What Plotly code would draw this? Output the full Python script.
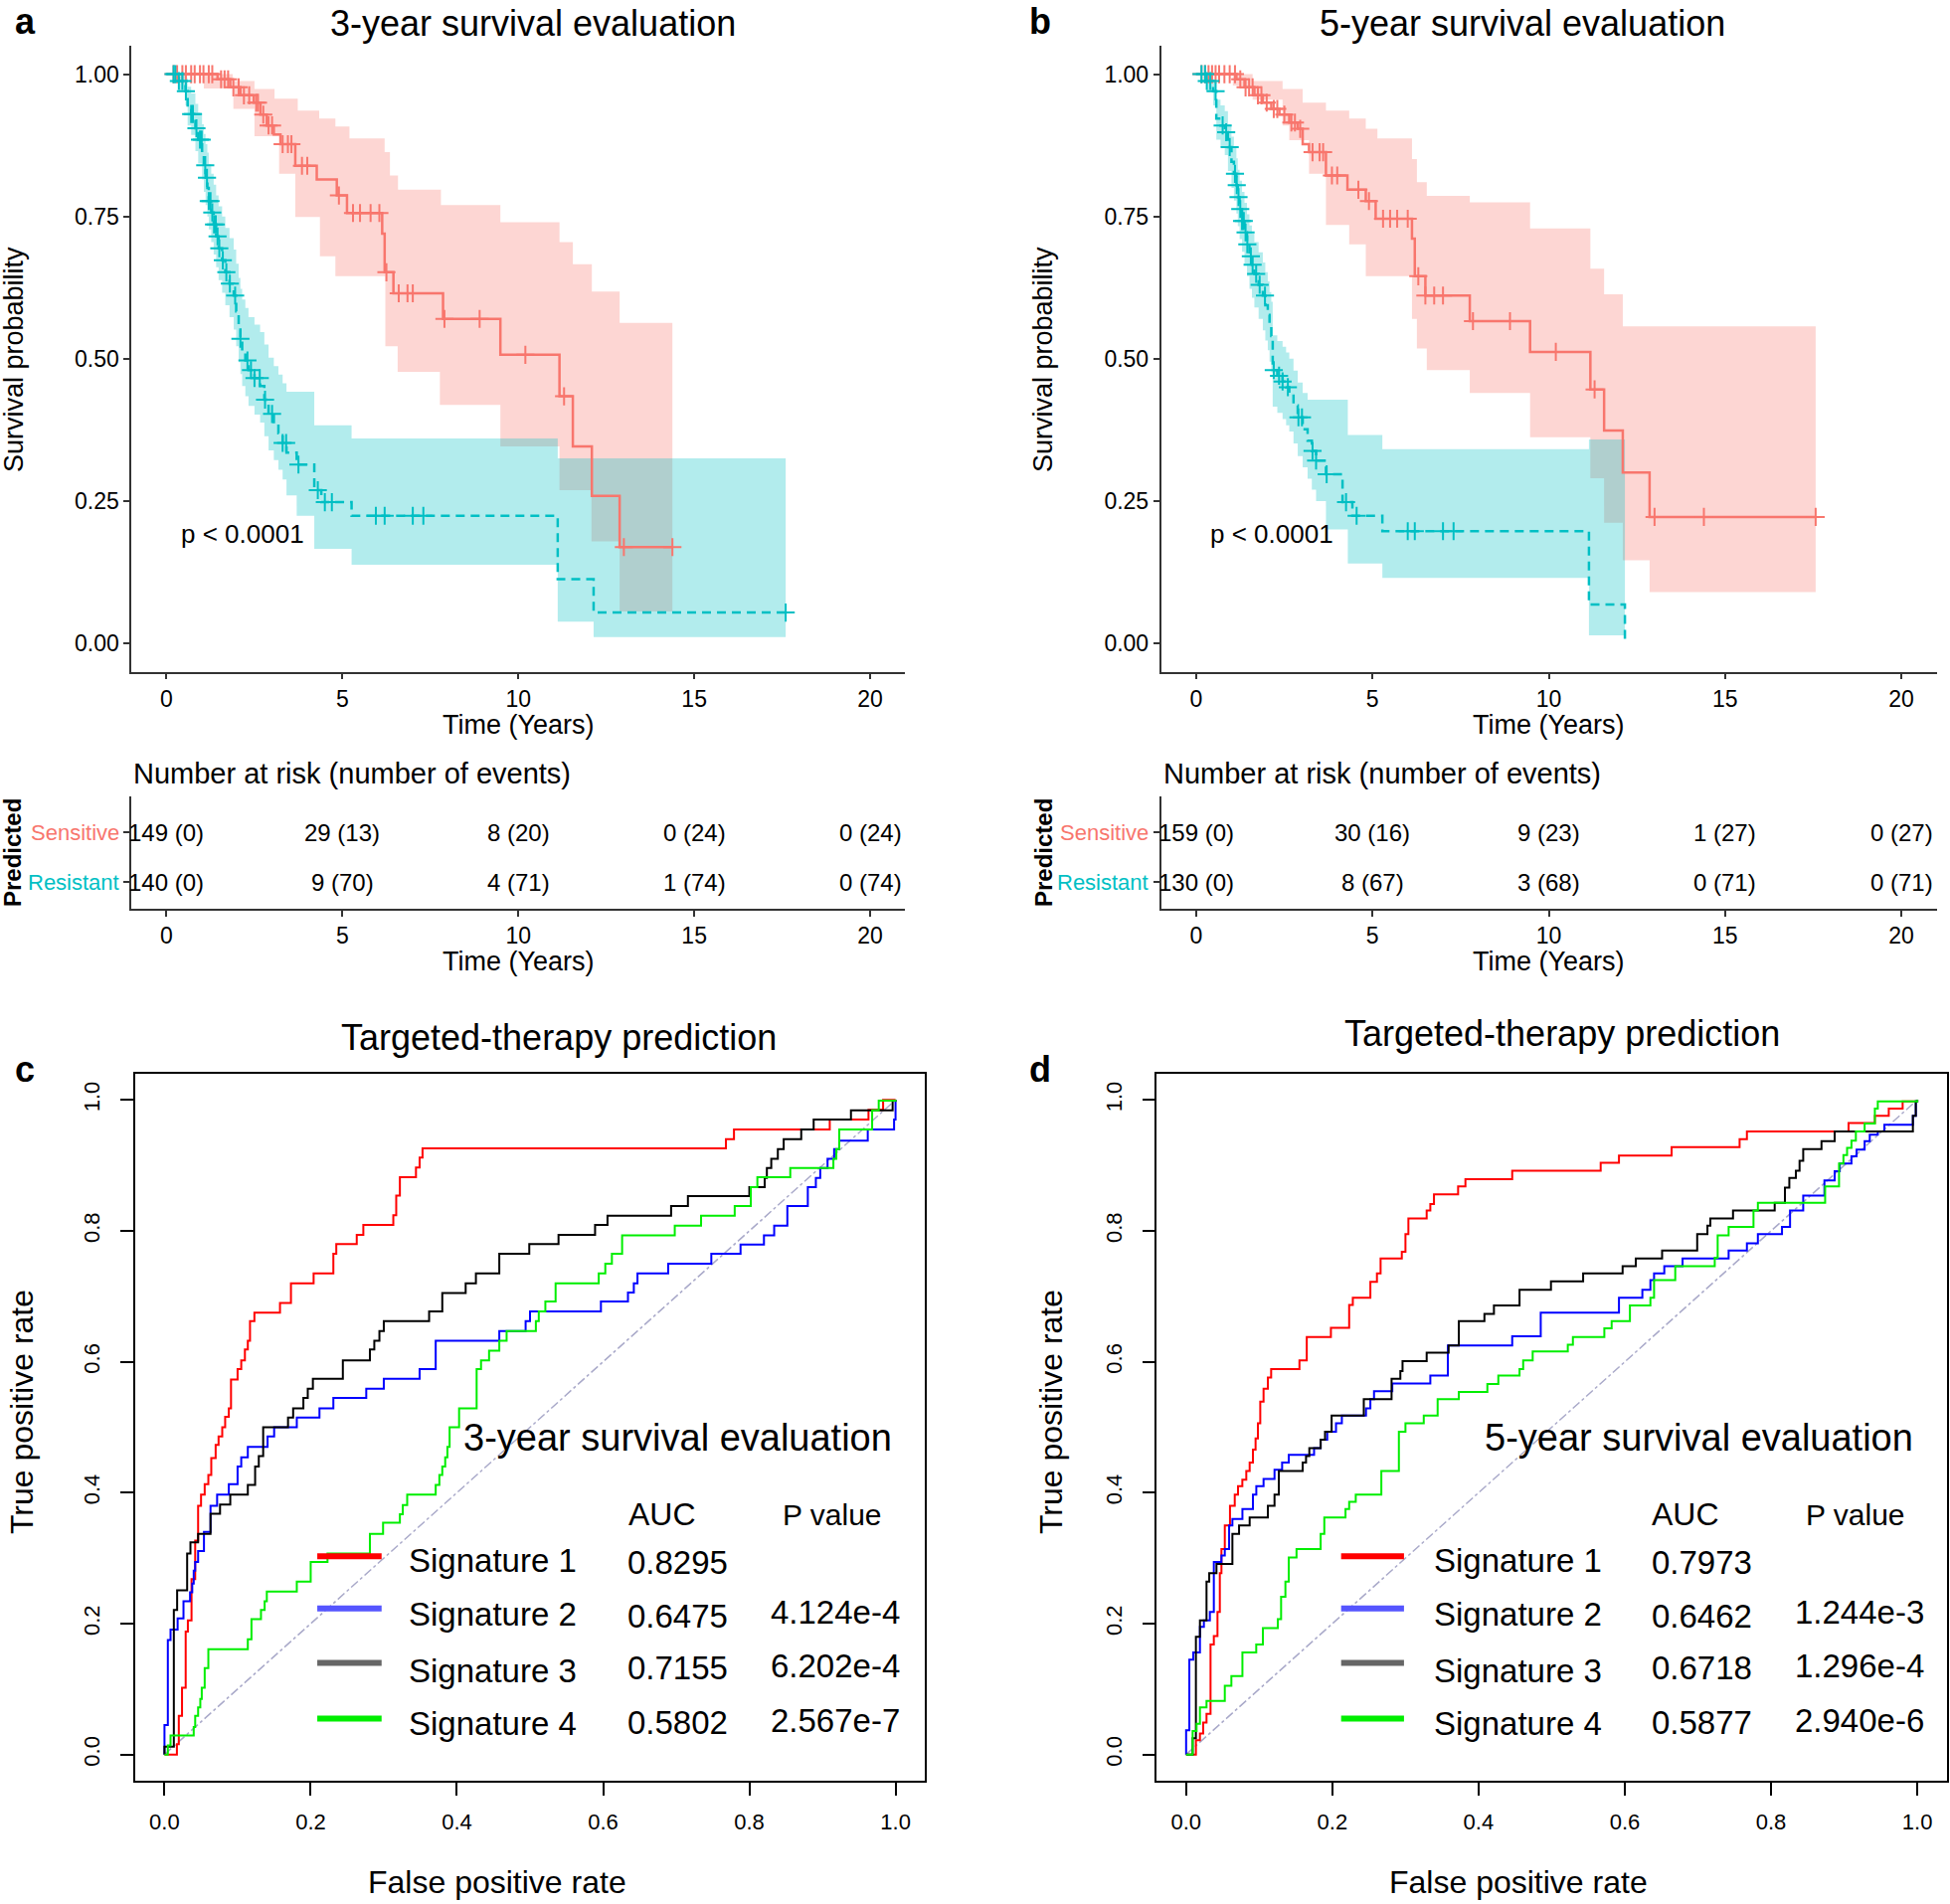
import bisect
import plotly.graph_objects as go

W, H = 1961, 1915
FONT = "Liberation Sans, Arial, sans-serif"
RED = "#F8766D"
CYAN = "#00BFC4"
RED_BAND = "rgba(248,118,109,0.30)"
CYAN_BAND = "rgba(0,191,196,0.30)"

# ---------------- Panel a : 3-year KM ----------------
A_SENS_T = [0, 1.45, 1.81, 2.10, 2.48, 2.67, 2.85, 3.05, 3.24, 3.66, 4.27, 4.84, 5.13, 6.13, 6.2, 6.45, 7.86, 9.49, 11.17, 11.55, 12.09, 12.88]
A_SENS_S = [1.0, 0.991, 0.977, 0.963, 0.950, 0.929, 0.91, 0.894, 0.877, 0.839, 0.815, 0.787, 0.756, 0.72, 0.652, 0.615, 0.570, 0.507, 0.434, 0.346, 0.259, 0.169]
A_SENS_END = 14.38
A_SENS_UP_T = [0, 1.88, 2.5, 3.07, 3.73, 4.34, 4.8, 5.2, 6.2, 6.35, 6.58, 7.8, 9.49, 11.17, 11.55, 12.09, 12.88]
A_SENS_UP = [1.0, 0.988, 0.974, 0.957, 0.936, 0.922, 0.908, 0.887, 0.863, 0.822, 0.797, 0.770, 0.740, 0.705, 0.666, 0.618, 0.563]
A_SENS_LO_T = [0, 1.06, 1.9, 2.5, 3.2, 3.66, 4.36, 4.8, 6.22, 6.57, 7.77, 9.49, 11.17, 12.08, 12.88]
A_SENS_LO = [1.0, 0.975, 0.939, 0.891, 0.825, 0.749, 0.68, 0.645, 0.522, 0.477, 0.419, 0.346, 0.269, 0.179, 0.056]
A_SENS_CENS = [0.2, 0.3, 0.45, 0.55, 0.7, 0.8, 0.95, 1.05, 1.2, 1.3, 1.55, 1.65, 1.75, 1.9, 2.05, 2.2, 2.35, 2.55, 2.6, 2.75, 2.9, 3.0, 3.3, 3.45, 3.55, 3.85, 4.0, 4.9, 5.3, 5.5, 5.8, 6.05, 6.25, 6.6, 6.85, 7.0, 7.9, 8.9, 10.2, 11.3, 13.0, 14.38]

A_RES_T = [0, 0.35, 0.54, 0.6, 0.7, 0.82, 0.9, 1.01, 1.06, 1.11, 1.16, 1.2, 1.27, 1.34, 1.41, 1.48, 1.58, 1.67, 1.79, 1.91,
           1.98, 2.05, 2.1, 2.15, 2.24, 2.33, 2.5, 2.66, 2.78, 2.9, 3.05, 3.18, 3.3, 3.41, 3.7, 4.2, 4.4, 5.26, 11.12, 12.14]
A_RES_S = [1.0, 0.988, 0.970, 0.945, 0.93, 0.905, 0.885, 0.86, 0.84, 0.818, 0.80, 0.777, 0.757, 0.736, 0.715, 0.694, 0.673, 0.652, 0.632, 0.611,
           0.583, 0.556, 0.535, 0.514, 0.497, 0.480, 0.466, 0.452, 0.428, 0.403, 0.386, 0.369, 0.352, 0.335, 0.314, 0.269, 0.248, 0.224, 0.1125, 0.054]
A_RES_UP = [1.0, 1.0, 0.993, 0.978, 0.966, 0.948, 0.932, 0.912, 0.895, 0.877, 0.862, 0.842, 0.825, 0.806, 0.787, 0.768, 0.75, 0.73, 0.712, 0.692,
            0.667, 0.642, 0.623, 0.604, 0.589, 0.573, 0.56, 0.547, 0.525, 0.502, 0.487, 0.472, 0.457, 0.442, 0.442, 0.383, 0.383, 0.36, 0.325, 0.325]
A_RES_LO = [1.0, 0.97, 0.945, 0.91, 0.893, 0.865, 0.843, 0.815, 0.793, 0.77, 0.75, 0.727, 0.705, 0.683, 0.661, 0.638, 0.616, 0.594, 0.573, 0.551,
            0.522, 0.494, 0.473, 0.452, 0.434, 0.417, 0.402, 0.388, 0.364, 0.339, 0.322, 0.305, 0.288, 0.26, 0.224, 0.166, 0.166, 0.138, 0.038, 0.011]
A_RES_END = 17.6
A_RES_CENS = [0.2, 0.25, 0.35, 0.45, 0.55, 0.7, 0.75, 0.85, 0.95, 1.0, 1.1, 1.15, 1.2, 1.25, 1.3, 1.35, 1.4, 1.45, 1.5, 1.6, 1.7, 1.8,
              1.95, 2.1, 2.3, 2.4, 2.5, 2.65, 2.8, 3.0, 3.3, 3.4, 3.75, 4.3, 4.5, 4.7, 5.95, 6.2, 7.0, 7.3, 17.6]

# ---------------- Panel b : 5-year KM ----------------
B_SENS_T = [0, 1.14, 1.37, 1.65, 1.89, 2.13, 2.36, 2.64, 2.88, 3.02, 3.2, 3.68, 4.29, 4.81, 5.09, 6.12, 6.2, 6.5, 7.76, 9.47, 11.18, 11.57, 12.1, 12.86]
B_SENS_S = [1.0, 0.991, 0.977, 0.963, 0.950, 0.939, 0.929, 0.915, 0.904, 0.877, 0.863, 0.822, 0.797, 0.777, 0.746, 0.711, 0.645, 0.611, 0.566, 0.512, 0.446, 0.374, 0.30, 0.222]
B_SENS_END = 17.57
B_SENS_UP_T = [0, 1.6, 2.45, 3.02, 3.68, 4.34, 4.81, 5.14, 6.12, 6.26, 6.54, 7.76, 9.47, 11.18, 11.57, 12.1]
B_SENS_UP = [1.0, 0.988, 0.974, 0.95, 0.936, 0.922, 0.904, 0.887, 0.851, 0.81, 0.786, 0.775, 0.729, 0.658, 0.613, 0.557]
B_SENS_LO_T = [0, 1.04, 1.6, 2.45, 2.64, 3.2, 3.68, 4.34, 4.81, 6.12, 6.26, 6.54, 7.76, 9.47, 11.18, 11.57, 12.1, 12.86]
B_SENS_LO = [1.0, 0.98, 0.955, 0.91, 0.884, 0.825, 0.735, 0.701, 0.645, 0.57, 0.518, 0.48, 0.44, 0.362, 0.29, 0.212, 0.146, 0.09]
B_SENS_CENS = [0.15, 0.25, 0.35, 0.45, 0.55, 0.65, 0.8, 0.95, 1.1, 1.25, 1.4, 1.5, 1.6, 1.75, 1.85, 2.0, 2.2, 2.3, 2.5, 2.7, 2.8, 2.95,
               3.3, 3.5, 3.6, 3.85, 4.0, 4.6, 4.9, 5.3, 5.5, 5.7, 6.0, 6.3, 6.5, 6.75, 7.0, 7.85, 8.9, 10.2, 11.3, 13.0, 14.4, 17.57]

B_RES_T = [0, 0.29, 0.48, 0.57, 0.69, 0.81, 0.9, 1.0, 1.07, 1.14, 1.18, 1.23, 1.3, 1.37, 1.44, 1.51, 1.58, 1.65, 1.77, 1.89,
           1.96, 2.03, 2.08, 2.13, 2.17, 2.3, 2.45, 2.55, 2.64, 2.76, 2.88, 3.02, 3.16, 3.28, 3.4, 3.68, 4.15, 4.3, 4.43, 5.28, 11.14, 12.16]
B_RES_S = [1.0, 0.988, 0.970, 0.922, 0.91, 0.898, 0.872, 0.846, 0.825, 0.805, 0.784, 0.763, 0.742, 0.722, 0.701, 0.680, 0.665, 0.649, 0.630, 0.611,
           0.594, 0.577, 0.558, 0.54, 0.48, 0.47, 0.46, 0.45, 0.439, 0.418, 0.397, 0.376, 0.356, 0.338, 0.321, 0.297, 0.248, 0.248, 0.224, 0.197, 0.068, 0.0]
B_RES_UP = [1.0, 1.0, 0.99, 0.955, 0.945, 0.935, 0.912, 0.89, 0.87, 0.852, 0.832, 0.813, 0.793, 0.774, 0.754, 0.734, 0.72, 0.705, 0.687, 0.669,
            0.652, 0.636, 0.617, 0.6, 0.541, 0.531, 0.521, 0.511, 0.5, 0.479, 0.458, 0.44, 0.428, 0.428, 0.428, 0.428, 0.428, 0.366, 0.366, 0.341, 0.358, 0.358]
B_RES_LO = [1.0, 0.97, 0.945, 0.885, 0.872, 0.858, 0.83, 0.8, 0.778, 0.755, 0.733, 0.71, 0.688, 0.667, 0.645, 0.623, 0.607, 0.59, 0.57, 0.55,
            0.532, 0.515, 0.495, 0.476, 0.416, 0.405, 0.394, 0.383, 0.372, 0.351, 0.329, 0.309, 0.289, 0.27, 0.25, 0.2, 0.2, 0.14, 0.14, 0.115, 0.014, 0.014]
B_RES_END = 12.16
B_RES_CENS = [0.15, 0.25, 0.3, 0.4, 0.55, 0.75, 0.85, 0.95, 1.1, 1.15, 1.2, 1.25, 1.3, 1.35, 1.4, 1.45, 1.55, 1.6, 1.7, 1.8,
              1.95, 2.2, 2.35, 2.45, 2.6, 2.9, 3.0, 3.3, 3.4, 3.7, 4.25, 4.55, 6.0, 6.2, 7.0, 7.3]

# ---------------- Risk tables ----------------
RISK_TIMES = [0, 5, 10, 15, 20]
A_SENS_RISK = [149, 29, 8, 0, 0]
A_SENS_EVENTS = [0, 13, 20, 24, 24]
A_RES_RISK = [140, 9, 4, 1, 0]
A_RES_EVENTS = [0, 70, 71, 74, 74]
B_SENS_RISK = [159, 30, 9, 1, 0]
B_SENS_EVENTS = [0, 16, 23, 27, 27]
B_RES_RISK = [130, 8, 3, 0, 0]
B_RES_EVENTS = [0, 67, 68, 71, 71]

# ---------------- Panel c : ROC 3-year ----------------
C_SIG1_FPR = [0, 0.017, 0.0196, 0.024, 0.029, 0.032, 0.037, 0.042, 0.046, 0.050, 0.055, 0.060, 0.064, 0.070, 0.074, 0.079, 0.083, 0.088, 0.091, 0.100,
              0.105, 0.110, 0.114, 0.117, 0.123, 0.158, 0.173, 0.204, 0.231, 0.235, 0.263, 0.272, 0.313, 0.317, 0.322, 0.344, 0.349, 0.353, 0.768, 0.779,
              0.910, 0.963, 0.983, 1.0]
C_SIG1_TPR = [0, 0.016, 0.059, 0.102, 0.188, 0.205, 0.268, 0.327, 0.380, 0.397, 0.413, 0.427, 0.453, 0.473, 0.486, 0.500, 0.516, 0.529, 0.573, 0.589,
              0.602, 0.619, 0.632, 0.662, 0.675, 0.690, 0.720, 0.735, 0.765, 0.780, 0.794, 0.809, 0.824, 0.854, 0.882, 0.897, 0.912, 0.926, 0.940, 0.955,
              0.970, 0.985, 1.0, 1.0]
C_SIG2_FPR = [0, 0, 0.0046, 0.0083, 0.018, 0.026, 0.035, 0.038, 0.040, 0.042, 0.046, 0.054, 0.063, 0.072, 0.088, 0.100, 0.105, 0.114, 0.141, 0.150,
              0.181, 0.212, 0.231, 0.276, 0.300, 0.349, 0.371, 0.458, 0.494, 0.500, 0.597, 0.634, 0.642, 0.647, 0.689, 0.748, 0.788, 0.820, 0.834, 0.852,
              0.880, 0.891, 0.897, 0.907, 0.916, 0.923, 0.962, 0.998, 1.0]
C_SIG2_TPR = [0, 0.045, 0.175, 0.191, 0.208, 0.234, 0.248, 0.261, 0.281, 0.294, 0.311, 0.340, 0.380, 0.397, 0.413, 0.440, 0.454, 0.470, 0.486, 0.500,
              0.515, 0.529, 0.545, 0.559, 0.574, 0.589, 0.632, 0.647, 0.662, 0.677, 0.692, 0.706, 0.720, 0.735, 0.750, 0.765, 0.779, 0.793, 0.808, 0.838,
              0.867, 0.881, 0.896, 0.910, 0.925, 0.938, 0.955, 0.970, 1.0]
C_SIG3_FPR = [0, 0, 0.0128, 0.0173, 0.031, 0.0355, 0.046, 0.063, 0.076, 0.090, 0.114, 0.124, 0.129, 0.135, 0.169, 0.176, 0.190, 0.196, 0.203, 0.244,
              0.281, 0.287, 0.294, 0.300, 0.362, 0.380, 0.412, 0.426, 0.458, 0.499, 0.539, 0.589, 0.606, 0.693, 0.716, 0.800, 0.821, 0.824, 0.830, 0.839,
              0.847, 0.871, 0.888, 0.939, 0.996, 1.0]
C_SIG3_TPR = [0, 0.012, 0.221, 0.251, 0.307, 0.324, 0.337, 0.368, 0.382, 0.397, 0.412, 0.440, 0.456, 0.500, 0.515, 0.529, 0.545, 0.559, 0.574, 0.602,
              0.619, 0.632, 0.647, 0.662, 0.677, 0.705, 0.720, 0.735, 0.765, 0.780, 0.794, 0.809, 0.823, 0.838, 0.853, 0.867, 0.881, 0.896, 0.910, 0.925,
              0.940, 0.955, 0.970, 0.984, 0.999, 1.0]
C_SIG4_FPR = [0, 0.0046, 0.0083, 0.040, 0.042, 0.046, 0.049, 0.051, 0.055, 0.060, 0.114, 0.119, 0.132, 0.137, 0.140, 0.181, 0.200, 0.223, 0.281, 0.299,
              0.322, 0.326, 0.332, 0.371, 0.376, 0.380, 0.384, 0.387, 0.390, 0.403, 0.427, 0.433, 0.444, 0.458, 0.468, 0.508, 0.512, 0.521, 0.535, 0.594,
              0.603, 0.612, 0.626, 0.698, 0.734, 0.780, 0.802, 0.811, 0.856, 0.915, 0.919, 0.923, 0.968, 0.977, 1.0]
C_SIG4_TPR = [0, 0.014, 0.029, 0.042, 0.059, 0.072, 0.085, 0.102, 0.132, 0.161, 0.176, 0.207, 0.221, 0.234, 0.249, 0.264, 0.294, 0.307, 0.337, 0.354,
              0.367, 0.381, 0.397, 0.412, 0.427, 0.440, 0.454, 0.470, 0.500, 0.529, 0.589, 0.602, 0.617, 0.632, 0.647, 0.662, 0.677, 0.692, 0.720, 0.735,
              0.750, 0.765, 0.793, 0.808, 0.823, 0.838, 0.867, 0.882, 0.896, 0.910, 0.925, 0.955, 0.984, 0.999, 1.0]
C_AUC = ["0.8295", "0.6475", "0.7155", "0.5802"]
C_PVAL = ["", "4.124e-4", "6.202e-4", "2.567e-7"]

# ---------------- Panel d : ROC 5-year ----------------
D_SIG1_FPR = [0, 0.0134, 0.0189, 0.0234, 0.0279, 0.0334, 0.0379, 0.0429, 0.0461, 0.0483, 0.0529, 0.060, 0.0665, 0.071, 0.0769, 0.0823, 0.0869, 0.0914, 0.095, 0.0982,
              0.1014, 0.1059, 0.1118, 0.1163, 0.155, 0.165, 0.198, 0.223, 0.228, 0.252, 0.261, 0.266, 0.295, 0.300, 0.304, 0.329, 0.334, 0.339, 0.372, 0.382,
              0.446, 0.567, 0.592, 0.664, 0.757, 0.767, 0.906, 0.942, 0.961, 0.980, 1.0]
D_SIG1_TPR = [0, 0.022, 0.032, 0.049, 0.062, 0.168, 0.181, 0.218, 0.277, 0.314, 0.350, 0.380, 0.397, 0.410, 0.420, 0.433, 0.446, 0.466, 0.483, 0.506,
              0.539, 0.559, 0.576, 0.589, 0.602, 0.638, 0.652, 0.687, 0.698, 0.722, 0.735, 0.758, 0.768, 0.795, 0.819, 0.831, 0.841, 0.856, 0.868, 0.879,
              0.892, 0.904, 0.915, 0.928, 0.940, 0.952, 0.965, 0.976, 0.987, 0.998, 1.0]
D_SIG2_FPR = [0, 0, 0.0044, 0.0098, 0.0189, 0.0243, 0.0325, 0.0379, 0.0483, 0.0529, 0.0588, 0.0633, 0.077, 0.0914, 0.096, 0.1059, 0.1209, 0.1313, 0.1404, 0.175,
              0.184, 0.193, 0.205, 0.213, 0.246, 0.252, 0.257, 0.282, 0.334, 0.358, 0.446, 0.485, 0.592, 0.624, 0.635, 0.640, 0.654, 0.679, 0.742, 0.767,
              0.782, 0.815, 0.826, 0.844, 0.873, 0.887, 0.894, 0.910, 0.917, 0.928, 0.935, 0.946, 0.955, 0.994, 0.998, 1.0]
D_SIG2_TPR = [0, 0.037, 0.145, 0.156, 0.195, 0.205, 0.218, 0.294, 0.304, 0.314, 0.350, 0.360, 0.375, 0.397, 0.410, 0.421, 0.435, 0.446, 0.458, 0.468,
              0.481, 0.493, 0.506, 0.518, 0.529, 0.543, 0.555, 0.567, 0.579, 0.625, 0.639, 0.675, 0.698, 0.710, 0.725, 0.735, 0.746, 0.758, 0.770, 0.781,
              0.795, 0.806, 0.831, 0.854, 0.877, 0.891, 0.903, 0.914, 0.924, 0.937, 0.947, 0.952, 0.962, 0.976, 0.998, 1.0]
D_SIG3_FPR = [0, 0.0089, 0.0134, 0.0189, 0.0279, 0.0316, 0.0415, 0.0633, 0.0724, 0.0869, 0.1118, 0.1209, 0.1268, 0.1594, 0.164, 0.1685, 0.184, 0.190, 0.199, 0.243,
              0.281, 0.293, 0.296, 0.329, 0.359, 0.373, 0.408, 0.421, 0.456, 0.499, 0.543, 0.597, 0.615, 0.651, 0.699, 0.713, 0.717, 0.748, 0.805, 0.819,
              0.825, 0.834, 0.839, 0.844, 0.869, 0.887, 0.994, 0.998, 1.0]
D_SIG3_TPR = [0, 0.025, 0.180, 0.205, 0.264, 0.277, 0.291, 0.337, 0.350, 0.362, 0.380, 0.397, 0.433, 0.446, 0.456, 0.468, 0.481, 0.493, 0.518, 0.543,
              0.574, 0.586, 0.601, 0.614, 0.625, 0.662, 0.673, 0.686, 0.710, 0.723, 0.735, 0.746, 0.758, 0.770, 0.795, 0.808, 0.819, 0.831, 0.843, 0.866,
              0.881, 0.892, 0.907, 0.925, 0.937, 0.952, 0.976, 0.998, 1.0]
D_SIG4_FPR = [0, 0.0089, 0.0143, 0.0189, 0.0279, 0.0529, 0.0619, 0.077, 0.0959, 0.1050, 0.1254, 0.1299, 0.1358, 0.1404, 0.151, 0.184, 0.189, 0.218, 0.223, 0.232,
              0.267, 0.291, 0.300, 0.325, 0.344, 0.373, 0.412, 0.427, 0.456, 0.461, 0.474, 0.522, 0.529, 0.572, 0.582, 0.607, 0.635, 0.640, 0.669, 0.723,
              0.727, 0.742, 0.776, 0.782, 0.874, 0.893, 0.899, 0.904, 0.910, 0.916, 0.928, 0.942, 0.946, 1.0]
D_SIG4_TPR = [0, 0.036, 0.047, 0.072, 0.082, 0.105, 0.120, 0.156, 0.168, 0.193, 0.207, 0.241, 0.264, 0.301, 0.314, 0.337, 0.362, 0.375, 0.386, 0.397,
              0.433, 0.493, 0.506, 0.518, 0.543, 0.554, 0.566, 0.579, 0.589, 0.602, 0.616, 0.626, 0.638, 0.651, 0.662, 0.686, 0.698, 0.725, 0.746, 0.759,
              0.793, 0.806, 0.831, 0.843, 0.868, 0.903, 0.916, 0.927, 0.938, 0.952, 0.964, 0.987, 0.998, 1.0]
D_AUC = ["0.7973", "0.6462", "0.6718", "0.5877"]
D_PVAL = ["", "1.244e-3", "1.296e-4", "2.940e-6"]

SIG_NAMES = ["Signature 1", "Signature 2", "Signature 3", "Signature 4"]
SIG_COLORS = ["#FF0000", "#0000FF", "#000000", "#00EE00"]
LEG_COLORS = ["#FF0000", "#5555FF", "#666666", "#00EE00"]


# ---------------- helpers ----------------
def px(x):
    return x / W


def py(y):
    return 1 - y / H


def stair(times, vals, end):
    xs, ys = [], []
    for i, (t, v) in enumerate(zip(times, vals)):
        if i > 0:
            xs.append(t)
            ys.append(vals[i - 1])
        xs.append(t)
        ys.append(v)
    xs.append(end)
    ys.append(vals[-1])
    return xs, ys


def band(tu, up, tl, lo, end):
    xu, yu = stair(tu, up, end)
    xl, yl = stair(tl, lo, end)
    return xu + xl[::-1], yu + yl[::-1]


def surv_at(times, vals, t):
    i = bisect.bisect_right(times, t) - 1
    return vals[max(i, 0)]


fig = go.Figure()
ann = []


def txt(text, x, y, size, xref="paper", yref="paper", xanchor="center", yanchor="middle",
        color="black", angle=0, bold=False):
    if bold:
        text = "<b>" + text + "</b>"
    ann.append(dict(text=text, x=x, y=y, xref=xref, yref=yref, xanchor=xanchor, yanchor=yanchor,
                    showarrow=False, textangle=angle, font=dict(family=FONT, size=size, color=color)))


def km_panel(xa, ya, sens, res, pvx):
    (sT, sS, sEnd, suT, sU, slT, sL, sC) = sens
    (rT, rS, rEnd, rU, rL, rC) = res
    bx, by = band(suT, sU, slT, sL, sEnd)
    fig.add_trace(go.Scatter(x=bx, y=by, fill="toself", fillcolor=RED_BAND, line=dict(width=0),
                             mode="lines", xaxis=xa, yaxis=ya, hoverinfo="skip", showlegend=False))
    bx, by = band(rT, rU, rT, rL, rEnd)
    fig.add_trace(go.Scatter(x=bx, y=by, fill="toself", fillcolor=CYAN_BAND, line=dict(width=0),
                             mode="lines", xaxis=xa, yaxis=ya, hoverinfo="skip", showlegend=False))
    lx, ly = stair(sT, sS, sEnd)
    fig.add_trace(go.Scatter(x=lx, y=ly, mode="lines", line=dict(color=RED, width=2.5),
                             xaxis=xa, yaxis=ya, showlegend=False))
    lx, ly = stair(rT, rS, rEnd)
    fig.add_trace(go.Scatter(x=lx, y=ly, mode="lines", line=dict(color=CYAN, width=2.5, dash="9px,6px"),
                             xaxis=xa, yaxis=ya, showlegend=False))
    fig.add_trace(go.Scatter(x=sC, y=[surv_at(sT, sS, t) for t in sC], mode="markers",
                             marker=dict(symbol="cross-thin", size=13, line=dict(color=RED, width=2)),
                             xaxis=xa, yaxis=ya, showlegend=False))
    fig.add_trace(go.Scatter(x=rC, y=[surv_at(rT, rS, t) for t in rC], mode="markers",
                             marker=dict(symbol="cross-thin", size=13, line=dict(color=CYAN, width=2)),
                             xaxis=xa, yaxis=ya, showlegend=False))
    txt("p < 0.0001", pvx, 0.193, 26, xref=xa, yref=ya, xanchor="left")


km_panel("x", "y",
         (A_SENS_T, A_SENS_S, A_SENS_END, A_SENS_UP_T, A_SENS_UP, A_SENS_LO_T, A_SENS_LO, A_SENS_CENS),
         (A_RES_T, A_RES_S, A_RES_END, A_RES_UP, A_RES_LO, A_RES_CENS), 0.35)
km_panel("x2", "y2",
         (B_SENS_T, B_SENS_S, B_SENS_END, B_SENS_UP_T, B_SENS_UP, B_SENS_LO_T, B_SENS_LO, B_SENS_CENS),
         (B_RES_T, B_RES_S, B_RES_END, B_RES_UP, B_RES_LO, B_RES_CENS), 0.34)

# invisible traces to activate risk-table axes
for xa, ya in (("x3", "y3"), ("x4", "y4")):
    fig.add_trace(go.Scatter(x=[0], y=[1], mode="markers", marker=dict(opacity=0), xaxis=xa, yaxis=ya,
                             hoverinfo="skip", showlegend=False))

for xa, ya, sr, se, rr, re in (("x3", "y3", A_SENS_RISK, A_SENS_EVENTS, A_RES_RISK, A_RES_EVENTS),
                               ("x4", "y4", B_SENS_RISK, B_SENS_EVENTS, B_RES_RISK, B_RES_EVENTS)):
    for t, n, e in zip(RISK_TIMES, sr, se):
        txt(f"{n} ({e})", t, 2, 24, xref=xa, yref=ya)
    for t, n, e in zip(RISK_TIMES, rr, re):
        txt(f"{n} ({e})", t, 1, 24, xref=xa, yref=ya)


def roc_panel(xa, ya, fprs, tprs, aucs, pvals, title, leg_x0, leg_x1, name_x, auc_x, auc_hdr_x, p_x, p_hdr_x):
    fig.add_trace(go.Scatter(x=[0, 1], y=[0, 1], mode="lines", line=dict(color="#A9A9C9", width=1.5, dash="dashdot"),
                             xaxis=xa, yaxis=ya, showlegend=False, hoverinfo="skip"))
    for f, t, c in zip(fprs, tprs, SIG_COLORS):
        fig.add_trace(go.Scatter(x=f, y=t, mode="lines", line=dict(color=c, width=2, shape="hv"),
                                 xaxis=xa, yaxis=ya, showlegend=False))
    leg_y = [0.303, 0.223, 0.140, 0.055]
    name_y = [0.297, 0.214, 0.128, 0.047]
    auc_y = [0.293, 0.212, 0.132, 0.049]
    p_y = [None, 0.217, 0.135, 0.052]
    for i in range(4):
        fig.add_trace(go.Scatter(x=[leg_x0, leg_x1], y=[leg_y[i], leg_y[i]], mode="lines",
                                 line=dict(color=LEG_COLORS[i], width=6), xaxis=xa, yaxis=ya,
                                 showlegend=False, hoverinfo="skip"))
        txt(SIG_NAMES[i], name_x, name_y[i], 33, xref=xa, yref=ya, xanchor="left")
        txt(aucs[i], auc_x, auc_y[i], 33, xref=xa, yref=ya, xanchor="left")
        if pvals[i]:
            txt(pvals[i], p_x, p_y[i], 33, xref=xa, yref=ya)
    txt("AUC", auc_hdr_x, 0.367, 32, xref=xa, yref=ya)
    txt("P value", p_hdr_x, 0.367, 30, xref=xa, yref=ya)
    txt(title, 0.702, 0.484, 38, xref=xa, yref=ya)


roc_panel("x5", "y5", [C_SIG1_FPR, C_SIG2_FPR, C_SIG3_FPR, C_SIG4_FPR],
          [C_SIG1_TPR, C_SIG2_TPR, C_SIG3_TPR, C_SIG4_TPR], C_AUC, C_PVAL, "3-year survival evaluation",
          0.209, 0.297, 0.332, 0.631, 0.681, 0.918, 0.913)
roc_panel("x6", "y6", [D_SIG1_FPR, D_SIG2_FPR, D_SIG3_FPR, D_SIG4_FPR],
          [D_SIG1_TPR, D_SIG2_TPR, D_SIG3_TPR, D_SIG4_TPR], D_AUC, D_PVAL, "5-year survival evaluation",
          0.212, 0.298, 0.336, 0.634, 0.683, 0.921, 0.915)

# ---------------- axes ----------------
AX_LINE = "#333333"
km_x = dict(range=[-1, 21], tickvals=[0, 5, 10, 15, 20], ticks="outside", ticklen=6, tickwidth=1.5,
            tickcolor=AX_LINE, showline=True, linecolor=AX_LINE, linewidth=1.5, showgrid=False, zeroline=False,
            tickfont=dict(family=FONT, size=23, color="black"))
km_y = dict(range=[-0.05, 1.05], tickvals=[0, 0.25, 0.5, 0.75, 1.0], ticktext=["0.00", "0.25", "0.50", "0.75", "1.00"],
            ticks="outside", ticklen=6, tickwidth=1.5, tickcolor=AX_LINE, showline=True, linecolor=AX_LINE,
            linewidth=1.5, showgrid=False, zeroline=False, tickfont=dict(family=FONT, size=23, color="black"))
rk_y = dict(range=[0.46, 2.72], tickvals=[1, 2], ticktext=["", ""], ticks="outside", ticklen=6, tickwidth=1.5,
            tickcolor=AX_LINE, showline=True, linecolor=AX_LINE, linewidth=1.5, showgrid=False, zeroline=False)
roc_ticks = [0, 0.2, 0.4, 0.6, 0.8, 1.0]
roc_x = dict(range=[-0.04, 1.04], tickvals=roc_ticks, ticktext=["0.0", "0.2", "0.4", "0.6", "0.8", "1.0"],
             ticks="outside", ticklen=13, tickwidth=1.5, tickcolor="black", showline=True, mirror=True,
             linecolor="black", linewidth=1.8, showgrid=False, zeroline=False, ticklabelstandoff=8,
             tickfont=dict(family=FONT, size=22, color="black"))
roc_y = dict(roc_x, tickangle=-90, ticklabelstandoff=12)

XA_A = [px(132.1), px(910.4)]
XA_B = [px(1167.5), px(1947.5)]
fig.update_layout(
    width=W, height=H, margin=dict(l=0, r=0, t=0, b=0),
    paper_bgcolor="white", plot_bgcolor="white", showlegend=False,
    xaxis=dict(km_x, domain=XA_A, anchor="y"),
    yaxis=dict(km_y, domain=[py(675.6), py(46)], anchor="x"),
    xaxis2=dict(km_x, domain=XA_B, anchor="y2"),
    yaxis2=dict(km_y, domain=[py(675.6), py(46)], anchor="x2"),
    xaxis3=dict(km_x, domain=XA_A, anchor="y3"),
    yaxis3=dict(rk_y, domain=[py(914), py(801)], anchor="x3"),
    xaxis4=dict(km_x, domain=XA_B, anchor="y4"),
    yaxis4=dict(rk_y, domain=[py(914), py(801)], anchor="x4"),
    xaxis5=dict(roc_x, domain=[px(136), px(930)], anchor="y5"),
    yaxis5=dict(roc_y, domain=[py(1791), py(1080)], anchor="x5"),
    xaxis6=dict(roc_x, domain=[px(1163.4), px(1957.5)], anchor="y6"),
    yaxis6=dict(roc_y, domain=[py(1791), py(1080)], anchor="x6"),
)

# ---------------- titles & labels ----------------
txt("a", px(25), py(22), 36, bold=True)
txt("b", px(1046), py(22), 36, bold=True)
txt("c", px(25), py(1075), 36, bold=True)
txt("d", px(1046), py(1075), 36, bold=True)
txt("3-year survival evaluation", px(536), py(23), 36)
txt("5-year survival evaluation", px(1531), py(23), 36)
txt("Targeted-therapy prediction", px(562), py(1043), 36)
txt("Targeted-therapy prediction", px(1571), py(1039), 36)

for cx, lx in ((521, 14), (1557.5, 1049)):
    txt("Time (Years)", px(cx), py(729), 27)
    txt("Survival probability", px(lx), py(362), 27, angle=-90)
    txt("Time (Years)", px(cx), py(967), 27)

for left, plx, lab_r in ((132, 12, 122), (1168, 1049, 1157)):
    txt("Number at risk (number of events)", px(left), py(778), 29, xanchor="left")
    txt("Predicted", px(plx), py(858), 24, angle=-90, bold=True)
    txt("Sensitive", px(lab_r), py(837), 22, xanchor="right", color=RED)
    txt("Resistant", px(lab_r), py(887), 22, xanchor="right", color=CYAN)

txt("False positive rate", px(500), py(1893), 32)
txt("False positive rate", px(1527), py(1893), 32)
txt("True positive rate", px(22), py(1420), 32, angle=-90)
txt("True positive rate", px(1057), py(1420), 32, angle=-90)

fig.update_layout(annotations=ann)
fig.write_html("out.html",
               config={"displayModeBar": False},
               post_script="document.body.style.margin='0';document.body.style.padding='0';"
                           "document.documentElement.style.overflow='hidden';")
